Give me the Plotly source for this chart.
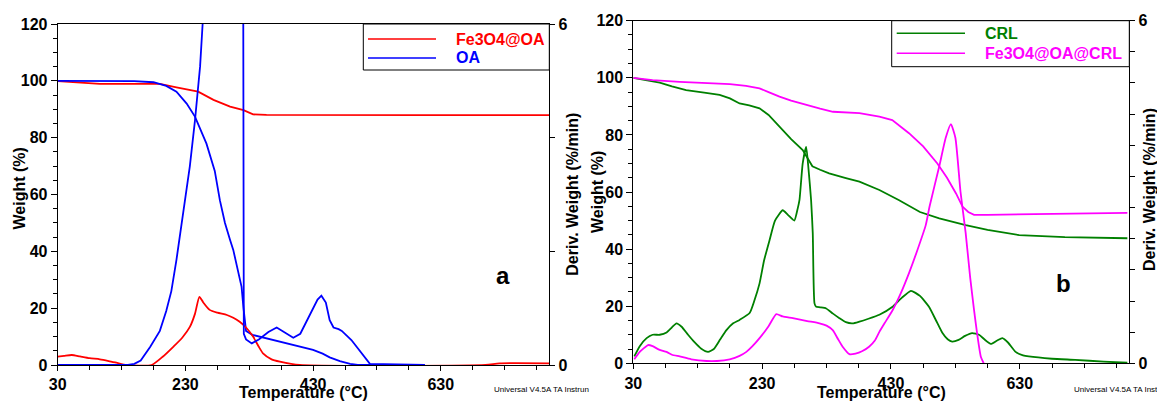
import plotly.graph_objects as go

W, H = 1157, 401

# ---------------- Panel a data ----------------
fe_oa_w_T = [30, 60, 96, 150, 190, 216, 250, 274, 300, 321, 336, 357, 450, 600, 800]
fe_oa_w = [99.9, 99.4, 98.9, 98.9, 98.9, 97.7, 96.2, 93.3, 90.9, 89.7, 88.2, 88.0, 87.9, 87.9, 87.9]

fe_oa_d_T = [30, 40, 52, 65, 80, 96, 110, 122, 138, 177, 195, 211, 225, 237, 245, 252, 258, 268,
             280, 295, 305, 315, 325, 336, 345, 352, 365, 378, 409, 700, 722, 800]
fe_oa_d = [0.146, 0.16, 0.176, 0.15, 0.12, 0.1, 0.07, 0.04, 0.0, 0.0, 0.15, 0.32, 0.48, 0.67, 0.9, 1.2,
           1.1, 0.97, 0.92, 0.88, 0.83, 0.76, 0.66, 0.5, 0.32, 0.2, 0.1, 0.06, 0.0, 0.0, 0.03, 0.03]

oa_w_T = [30, 100, 150, 180, 190, 200, 216, 232, 245, 263, 276, 284, 292, 295, 300, 305, 312, 318,
          321, 323, 325, 335, 350, 378, 409, 430, 445, 456, 472, 488, 500, 605]
oa_w = [100, 100, 99.9, 99.5, 98.9, 98.2, 96.2, 92.0, 87.4, 77.9, 68.3, 58.0, 50.0, 48.0, 44.0, 40.5,
        34.0, 27.5, 20.0, 15.0, 12.0, 10.6, 9.8, 8.2, 6.4, 5.3, 4.0, 2.7, 1.4, 0.4, 0.0, 0.0]

oa_d_T = [30, 140, 150, 160, 175, 190, 200, 208, 216, 224, 230, 237, 245, 253, 257, 265, 280, 300,
          315, 320, 320.6, 321, 321.5, 325, 334, 345, 360, 373, 385, 399, 410, 425, 437, 443, 450,
          456, 462, 470, 475, 490, 506, 519, 605]
oa_d = [0.0, 0.0, 0.02, 0.08, 0.32, 0.6, 0.95, 1.3, 1.85, 2.5, 2.95, 3.5, 4.3, 5.25, 6.0, 7.2, 9.0, 11.0,
        12.0, 12.0, 6.5, 3.0, 0.55, 0.45, 0.38, 0.45, 0.58, 0.66, 0.57, 0.48, 0.55, 0.88, 1.15, 1.22, 1.1,
        0.79, 0.66, 0.63, 0.6, 0.44, 0.2, 0.02, 0.0]

# ---------------- Panel b data ----------------
crl_w_T = [30, 50, 71, 90, 112, 140, 164, 180, 195, 210, 226, 240, 257, 275, 293, 300, 308, 320, 334,
           360, 381, 412, 442, 475, 490, 505, 546, 580, 629, 700, 797]
crl_w = [100, 99.2, 98.3, 97.0, 95.7, 94.8, 94.0, 92.8, 91.0, 90.3, 89.3, 87.0, 82.9, 78.5, 74.7, 72.0,
         69.0, 67.8, 66.5, 64.9, 63.6, 60.7, 57.2, 53.0, 51.8, 50.8, 48.4, 46.7, 44.9, 44.2, 43.8]

crl_d_T = [31.5, 40, 50.7, 60, 71, 81.7, 90, 97, 105, 115, 125, 135, 146, 155, 165, 174.6, 185, 195,
           210.6, 218, 226, 233, 241.6, 250, 262, 270, 280, 285, 288, 293, 298.4, 302, 306, 308.6,
           311.3, 314, 320, 329.4, 340, 350, 360, 370.5, 381, 395, 412, 432.5, 447, 461, 475, 489,
           500, 510, 518, 525, 535, 545, 556, 566.7, 575, 585, 595, 603, 612, 623.5, 635, 644, 680,
           716, 760, 797]
crl_d = [0.12, 0.3, 0.44, 0.5, 0.5, 0.54, 0.63, 0.7, 0.64, 0.5, 0.37, 0.26, 0.2, 0.25, 0.42, 0.58, 0.7,
         0.76, 0.88, 1.1, 1.4, 1.8, 2.16, 2.5, 2.68, 2.6, 2.5, 2.7, 2.86, 3.5, 3.79, 3.4, 2.86, 2.28,
         1.05, 0.99, 0.98, 0.96, 0.87, 0.79, 0.72, 0.7, 0.73, 0.78, 0.85, 0.99, 1.15, 1.27, 1.18, 0.99,
         0.75, 0.53, 0.42, 0.38, 0.41, 0.48, 0.53, 0.5, 0.42, 0.34, 0.4, 0.44, 0.36, 0.2, 0.14, 0.12,
         0.08, 0.06, 0.03, 0.01]

fe_crl_w_T = [30, 60, 102, 140, 180, 205, 226, 240, 257, 275, 298, 320, 340, 381, 412, 432, 458, 480,
              502, 517, 531, 541, 550, 559, 580, 700, 797]
fe_crl_w = [100, 99.2, 98.6, 98.3, 97.8, 97.2, 96.3, 95.0, 93.4, 92.0, 90.5, 89.2, 88.1, 87.6, 86.4,
            85.2, 80.6, 76.0, 70.0, 65.0, 59.5, 54.9, 53.0, 52.0, 52.0, 52.3, 52.7]

fe_crl_d_T = [31.5, 40, 53, 60, 70, 81.7, 90, 102, 120, 143.6, 160, 179.7, 195, 205.5, 215, 226, 240,
              252, 262, 277.7, 300, 319, 330, 339.6, 348, 355, 365.5, 375, 385, 396, 405, 412, 420,
              432.5, 445, 458, 470, 484, 490, 505, 515, 523, 530, 538, 546, 553, 559, 564, 569.4, 574]
fe_crl_d = [0.07, 0.2, 0.32, 0.3, 0.24, 0.2, 0.15, 0.12, 0.07, 0.04, 0.04, 0.07, 0.13, 0.2, 0.3, 0.44,
            0.65, 0.86, 0.82, 0.79, 0.74, 0.7, 0.66, 0.58, 0.42, 0.29, 0.16, 0.17, 0.21, 0.29, 0.4,
            0.55, 0.7, 0.93, 1.22, 1.58, 1.95, 2.42, 2.75, 3.45, 3.95, 4.19, 3.95, 3.0, 2.28, 1.5,
            0.93, 0.5, 0.12, 0.0]

x_range = [30, 800]
w_range = [0, 120]
d_range = [0, 6]

FONT = "Liberation Sans, Arial, sans-serif"
RED, BLUE, GREEN, MAG = "#ff0000", "#0000ff", "#008000", "#ff00ff"


def px(x):
    return x / W


def py(y):
    return 1 - y / H


fig = go.Figure()
lw = 1.8
fig.add_trace(go.Scatter(x=fe_oa_w_T, y=fe_oa_w, mode="lines", line=dict(color=RED, width=lw),
                         xaxis="x", yaxis="y", showlegend=False))
fig.add_trace(go.Scatter(x=oa_w_T, y=oa_w, mode="lines", line=dict(color=BLUE, width=lw),
                         xaxis="x", yaxis="y", showlegend=False))
fig.add_trace(go.Scatter(x=fe_oa_d_T, y=fe_oa_d, mode="lines", line=dict(color=RED, width=lw, shape="spline", smoothing=0.6),
                         xaxis="x", yaxis="y2", showlegend=False))
fig.add_trace(go.Scatter(x=oa_d_T, y=oa_d, mode="lines", line=dict(color=BLUE, width=lw),
                         xaxis="x", yaxis="y2", showlegend=False))

fig.add_trace(go.Scatter(x=crl_w_T, y=crl_w, mode="lines", line=dict(color=GREEN, width=lw),
                         xaxis="x2", yaxis="y3", showlegend=False))
fig.add_trace(go.Scatter(x=fe_crl_w_T, y=fe_crl_w, mode="lines", line=dict(color=MAG, width=lw),
                         xaxis="x2", yaxis="y3", showlegend=False))
fig.add_trace(go.Scatter(x=crl_d_T, y=crl_d, mode="lines", line=dict(color=GREEN, width=lw, shape="spline", smoothing=0.5),
                         xaxis="x2", yaxis="y4", showlegend=False))
fig.add_trace(go.Scatter(x=fe_crl_d_T, y=fe_crl_d, mode="lines", line=dict(color=MAG, width=lw, shape="spline", smoothing=0.5),
                         xaxis="x2", yaxis="y4", showlegend=False))

tickfont = dict(family=FONT, size=16, color="black", weight="bold")
common_x = dict(range=x_range, showline=True, linecolor="black", linewidth=1, mirror=True,
                ticks="outside", ticklen=5, tickcolor="black", tick0=30, dtick=200,
                minor=dict(dtick=50, tick0=30, ticks="outside", ticklen=4, tickcolor="black"),
                showgrid=False, zeroline=False, tickfont=tickfont, automargin=False)
common_w = dict(range=w_range, showline=True, linecolor="black", linewidth=1,
                ticks="outside", ticklen=6, tickcolor="black", dtick=20,
                minor=dict(dtick=5, ticks="outside", ticklen=4, tickcolor="black"),
                showgrid=False, zeroline=False, tickfont=tickfont, automargin=False)

fig.update_layout(
    width=W, height=H, margin=dict(l=0, r=0, t=0, b=0, pad=0, autoexpand=False),
    paper_bgcolor="white", plot_bgcolor="white",
    xaxis=dict(domain=[px(57.7), px(549.3)], anchor="y", **common_x),
    yaxis=dict(domain=[py(365), py(24)], anchor="x", **common_w),
    yaxis2=dict(overlaying="y", side="right", anchor="x", range=d_range, showline=True,
                linecolor="black", linewidth=1, ticks="outside", ticklen=5, tickcolor="black",
                tickvals=[0, 2, 4, 6], ticktext=["0", "", "", "6"], showgrid=False, zeroline=False,
                tickfont=tickfont, automargin=False),
    xaxis2=dict(domain=[px(633.3), px(1129.3)], anchor="y3", **common_x),
    yaxis3=dict(domain=[py(363.3), py(20.7)], anchor="x2", **common_w),
    yaxis4=dict(overlaying="y3", side="right", anchor="x2", range=d_range, showline=True,
                linecolor="black", linewidth=1, ticks="outside", ticklen=5, tickcolor="black",
                tickvals=[6 * i / 11 for i in range(12)],
                ticktext=["0"] + [""] * 10 + ["6"], showgrid=False, zeroline=False,
                tickfont=tickfont, automargin=False),
)

shapes = []
annots = []


def text(x, y, s, size=16, color="black", angle=0, xanchor="center", bold=True):
    annots.append(dict(x=px(x), y=py(y), xref="paper", yref="paper", text=s, showarrow=False,
                       textangle=angle, xanchor=xanchor, yanchor="middle",
                       font=dict(family=FONT, size=size, color=color,
                                 weight="bold" if bold else "normal")))


# legends
shapes.append(dict(type="rect", xref="paper", yref="paper", x0=px(363.3), x1=px(549.3),
                   y0=py(70), y1=py(24), line=dict(color="black", width=1), fillcolor="white", layer="above"))
shapes.append(dict(type="line", xref="paper", yref="paper", x0=px(368), x1=px(436), y0=py(39), y1=py(39),
                   line=dict(color=RED, width=1.5), layer="above"))
shapes.append(dict(type="line", xref="paper", yref="paper", x0=px(368), x1=px(436), y0=py(58), y1=py(58),
                   line=dict(color=BLUE, width=1.5), layer="above"))
text(454, 39, "Fe3O4@OA", color=RED, xanchor="left")
text(454, 57.5, "OA", color=BLUE, xanchor="left")

shapes.append(dict(type="rect", xref="paper", yref="paper", x0=px(891.7), x1=px(1129.3),
                   y0=py(66.7), y1=py(20.7), line=dict(color="black", width=1), fillcolor="white", layer="above"))
shapes.append(dict(type="line", xref="paper", yref="paper", x0=px(896.7), x1=px(965), y0=py(33.3), y1=py(33.3),
                   line=dict(color=GREEN, width=1.5), layer="above"))
shapes.append(dict(type="line", xref="paper", yref="paper", x0=px(896.7), x1=px(965), y0=py(53.3), y1=py(53.3),
                   line=dict(color=MAG, width=1.5), layer="above"))
text(983.3, 33.3, "CRL", color=GREEN, xanchor="left")
text(983.3, 53.3, "Fe3O4@OA@CRL", color=MAG, xanchor="left")

# axis titles
text(18.5, 189, "Weight (%)", angle=-90)
text(571.7, 194, "Deriv. Weight (%/min)", angle=-90)
text(598, 192, "Weight (%)", angle=-90)
text(1149, 190, "Deriv. Weight (%/min)", angle=-90)
text(303.5, 392, "Temperature (°C)")
text(881.3, 392, "Temperature (°C)")

# panel labels
text(503, 275, "a", size=24)
text(1063, 283, "b", size=24)

# instrument notes
text(492.3, 389.3, "Universal V4.5A TA Instrun", size=8, xanchor="left", bold=False)
text(1072, 389.3, "Universal V4.5A TA Instruments", size=8, xanchor="left", bold=False)

fig.update_layout(shapes=shapes, annotations=annots)
fig.write_html("out.html")
